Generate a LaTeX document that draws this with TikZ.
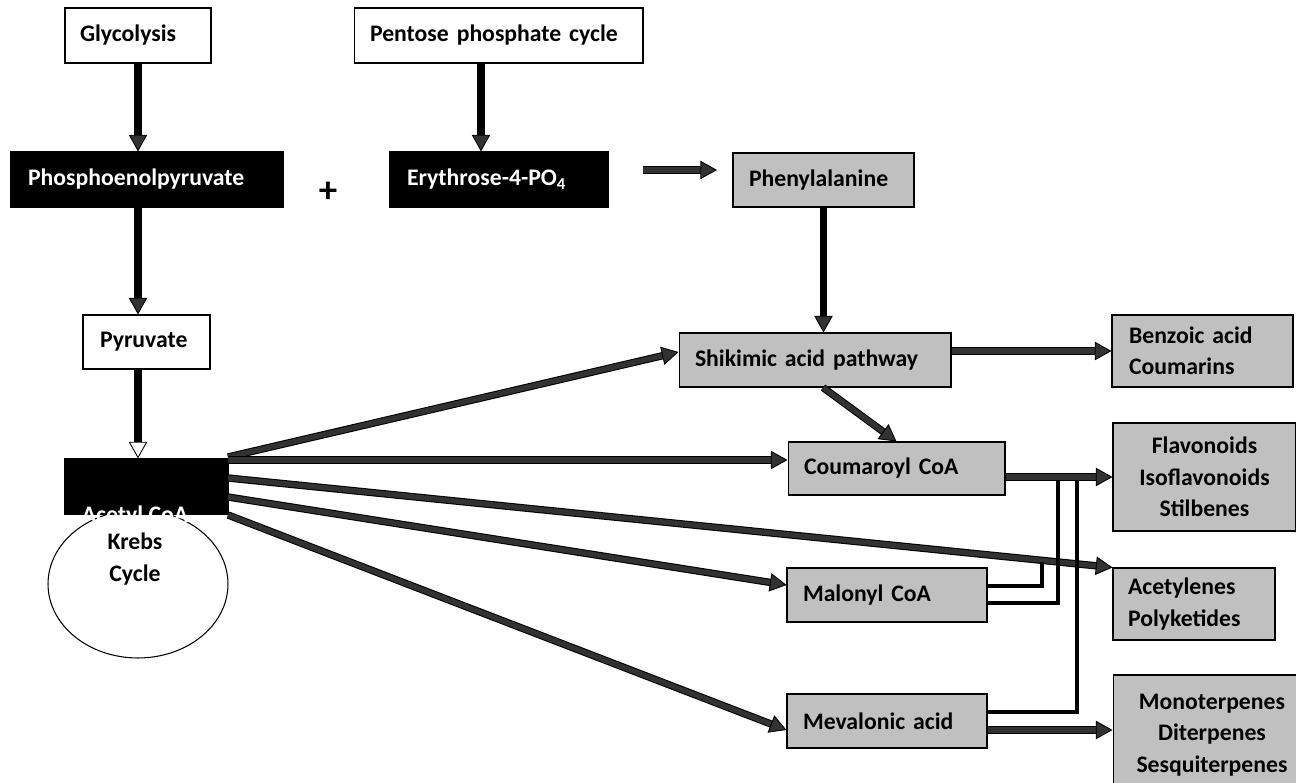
\documentclass[tikz,border=0pt]{standalone}
\usepackage{fontspec}
\setmainfont{Carlito}
\usetikzlibrary{arrows.meta,shapes.geometric}
\definecolor{boxgray}{RGB}{192,192,192}
\definecolor{arrowgray}{RGB}{50,50,50}
\begin{document}
\begin{tikzpicture}[x=0.02cm, y=-0.02cm,
    box/.style={draw=black, line width=0.6pt, inner ysep=0pt, align=left,
      font=\bfseries\fontsize{13.5pt}{17.8pt}\selectfont},
    whitebox/.style={box, fill=white},
    blackbox/.style={box, fill=black, text=white},
    graybox/.style={box, fill=boxgray},
    tip/.style={-{Triangle[width=10.5pt, length=9.5pt, color=black, fill=#1, line width=0.5pt]}},
    garrow/.style={preaction={draw=black, line width=4.2pt, -, shorten >=6pt},
      arrowgray, line width=3pt, tip=arrowgray},
    barrow/.style={black, line width=4pt, tip=arrowgray},
    link/.style={black, line width=2.8pt}]
        \useasboundingbox (0,0) rectangle (1296,783);
        \coordinate (ac1) at (228,457);
        \coordinate (ac2) at (228,460);
        \coordinate (ac3) at (228,478);
        \coordinate (ac4) at (228,497);
        \coordinate (ac5) at (228,515);
        \coordinate (ery out) at (643,170);
        \coordinate (phe in)  at (717,170);
        \coordinate (j1) at (1042,562);
        \coordinate (j2) at (1058,477);
        \coordinate (j3) at (1077,477);
        \node[whitebox, minimum width=2.92cm, minimum height=1.10cm, text width=2.32cm, inner xsep=0.30cm] (glyc) at (138,35.5) {Glycolysis};
        \node[whitebox, minimum width=5.78cm, minimum height=1.10cm, text width=5.14cm, inner xsep=0.32cm] (pent) at (498.5,35.5) {Pentose phosphate cycle};
        \node[blackbox, minimum width=5.44cm, minimum height=1.10cm, text width=4.76cm, inner xsep=0.34cm] (pep) at (147,179.5) {Phosphoenolpyruvate};
        \node[font=\bfseries\fontsize{21pt}{24pt}\selectfont] (plus) at (328,192) {+};
        \node[blackbox, minimum width=4.36cm, minimum height=1.10cm, text width=3.68cm, inner xsep=0.34cm] (ery) at (499,179.5) {Erythrose-4-PO\textsubscript{4}};
        \node[graybox, minimum width=3.62cm, minimum height=1.08cm, text width=2.98cm, inner xsep=0.32cm] (phe) at (823.5,180) {Phenylalanine};
        \node[whitebox, minimum width=2.54cm, minimum height=1.08cm, text width=1.86cm, inner xsep=0.34cm] (pyr) at (146.5,342) {Pyruvate};
        \node[graybox, minimum width=5.44cm, minimum height=1.08cm, text width=4.80cm, inner xsep=0.32cm] (shik) at (815,360) {Shikimic acid pathway};
        \node[graybox, minimum width=3.62cm, minimum height=1.44cm, text width=2.94cm, inner xsep=0.34cm] (benz) at (1202.5,351) {Benzoic acid\\Coumarins};
        \node[graybox, minimum width=4.34cm, minimum height=1.06cm, text width=3.70cm, inner xsep=0.32cm] (coum) at (896.5,468.5) {Coumaroyl CoA};
        \node[graybox, minimum width=3.66cm, minimum height=2.16cm, text width=3.46cm, inner xsep=0.10cm, align=center] (flav) at (1204.5,477) {Flavonoids\\Isoflavonoids\\Stilbenes};
        \node[graybox, minimum width=3.24cm, minimum height=1.44cm, text width=2.64cm, inner xsep=0.30cm] (acl) at (1194,604) {Acetylenes\\Polyketides};
        \node[graybox, minimum width=4.00cm, minimum height=1.08cm, text width=3.36cm, inner xsep=0.32cm] (mal) at (887,595) {Malonyl CoA};
        \node[graybox, minimum width=4.00cm, minimum height=1.08cm, text width=3.36cm, inner xsep=0.32cm] (mev) at (887,721) {Mevalonic acid};
        \node[graybox, minimum width=3.96cm, minimum height=2.40cm, text width=3.76cm, inner xsep=0.10cm, align=center] (mono) at (1212,735) {Monoterpenes\\Diterpenes\\Sesquiterpenes};
        \node[draw=black, fill=white, line width=0.6pt, ellipse, minimum width=3.60cm, minimum height=2.96cm] (krebs) at (138,584) {};
        \node[box, draw=none, align=center] (krebslabel) at (135,559) {Krebs\\Cycle};
        \node[blackbox, minimum width=3.26cm, minimum height=1.10cm] (acetyl) at (146.5,486.5) {};
        \node[box, draw=none, text=white] (acetyllabel) at (135,516) {Acetyl CoA};
        \draw[barrow] (glyc.south) -- (glyc.south |- pep.north);
        \draw[barrow] ([xshift=-0.35cm]pent.south) -- ([xshift=-0.35cm]pent.south |- ery.north);
        \draw[barrow] ([xshift=-0.18cm]pep.south) -- ([xshift=-0.18cm]pep.south |- pyr.north);
        \draw[black, line width=4pt, tip=white] ([xshift=-0.17cm]pyr.south) -- ([xshift=-0.17cm]pyr.south |- acetyl.north);
        \draw[garrow] (ery out) -- (phe in);
        \draw[barrow] (phe.south) -- (phe.south |- shik.north);
        \draw[garrow] (shik.east |- benz.west) -- (benz.west);
        \draw[garrow] ([xshift=0.16cm]shik.south) -- (coum.north);
        \draw[garrow] (ac1) -- ([yshift=0.16cm]shik.west);
        \draw[garrow] (ac2) -- (ac2 -| coum.west);
        \draw[garrow] (ac3) -- (acl.north west);
        \draw[garrow] (ac4) -- ([yshift=0.2cm]mal.west);
        \draw[garrow] (ac5) -- ([yshift=-0.18cm]mev.west);
        \draw[link] ([yshift=0.18cm]mal.east) -| (j1);
        \draw[link] ([yshift=-0.16cm]mal.east) -| (j2);
        \draw[link] ([yshift=0.18cm]mev.east) -| (j3);
        \draw[garrow] (coum.east |- flav.west) -- (flav.west);
        \draw[garrow] ([yshift=-0.18cm]mev.east) -- ([yshift=-0.18cm]mev.east -| mono.west);
\end{tikzpicture}
\end{document}
